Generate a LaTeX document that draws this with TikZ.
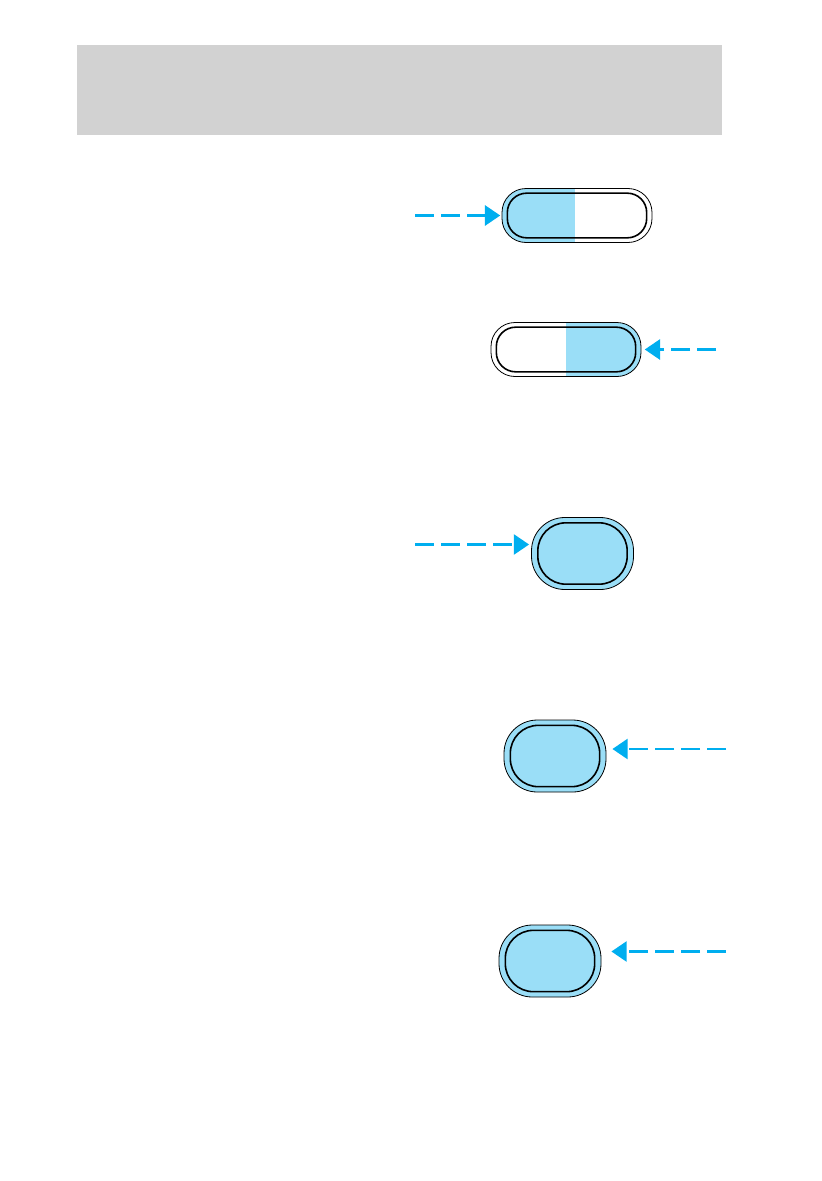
\documentclass[tikz,border=0pt]{standalone}
\usepackage{xcolor}
\usepackage{tikz}
\usetikzlibrary{arrows.meta,positioning,calc}
\definecolor{bandgray}{HTML}{D2D2D2}
\definecolor{btnblue}{HTML}{9ADEF7}
\definecolor{pointcyan}{HTML}{00AEEF}
\tikzset{
    outerpill/.style={draw=black, line width=0.6pt, rounded corners=18pt, inner sep=0pt,
        minimum width=112.5pt, minimum height=40.5pt, fill=white},
    innerpill/.style={draw=black, line width=1.2pt, rounded corners=14.5pt, inner sep=0pt,
        minimum width=104.5pt, minimum height=33.5pt},
    outeroval/.style={draw=black, line width=0.6pt, rounded corners=25pt, inner sep=0pt,
        minimum width=76.5pt, minimum height=54pt, fill=btnblue},
    inneroval/.style={draw=black, line width=1.2pt, rounded corners=21pt, inner sep=0pt,
        minimum width=67pt, minimum height=46pt},
    leftblue/.style={path picture={\fill[btnblue, sharp corners] (path picture bounding box.south west)
        rectangle ([xshift=-1.5pt]path picture bounding box.north);}},
    rightblue/.style={path picture={\fill[btnblue, sharp corners] (path picture bounding box.south east)
        rectangle (path picture bounding box.north);}},
    pointer/.style={pointcyan, line width=2.2pt, dash pattern=on 14pt off 5.5pt,
        -{Triangle[length=11.5pt, width=15pt]}}
}
\begin{document}
\begin{tikzpicture}[x=0.75pt, y=-0.75pt]
    \useasboundingbox (0,0) rectangle (821,1181);
    % Header band
    \fill[bandgray] (77,45) rectangle (722,135);
    % Button 1 (left half lit)
    \node[outerpill, leftblue] (btn1) at (577,215.5) {};
    \node[innerpill] (btn1in) at (btn1.center) {};
    \coordinate (a1) at (415,215.5);
    \draw[pointer, shorten >=1pt] (a1) -- (btn1.west);
    % Button 2 (right half lit)
    \node[outerpill, rightblue] (btn2) at (566,349.5) {};
    \node[innerpill] (btn2in) at (btn2.center) {};
    \coordinate (a2) at (716,349.5);
    \draw[pointer, shorten >=2.5pt] (a2) -- (btn2.east);
    % Button 3
    \node[outeroval] (btn3) at (582.5,553.5) {};
    \node[inneroval] (btn3in) at (btn3.center) {};
    \coordinate (a3) at (415,544.5);
    \draw[pointer, shorten >=1.5pt] (a3) -- (a3 -| btn3.west);
    % Button 4
    \node[outeroval] (btn4) at (555,756) {};
    \node[inneroval] (btn4in) at (btn4.center) {};
    \coordinate (a4) at (726,749);
    \draw[pointer, shorten >=4.5pt] (a4) -- (a4 -| btn4.east);
    % Button 5
    \node[outeroval] (btn5) at (550,961) {};
    \node[inneroval] (btn5in) at (btn5.center) {};
    \coordinate (a5) at (726,951.5);
    \draw[pointer, shorten >=7.5pt] (a5) -- (a5 -| btn5.east);
\end{tikzpicture}
\end{document}
